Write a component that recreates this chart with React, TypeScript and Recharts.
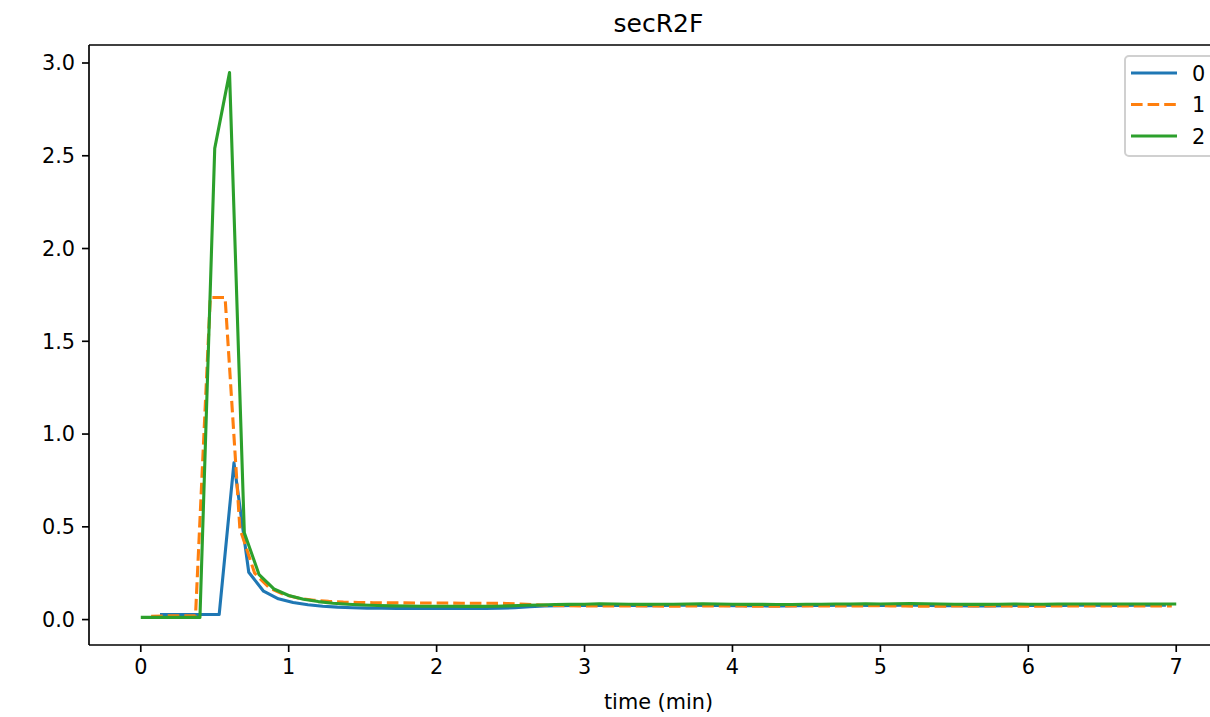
import React from "react";
import {
  LineChart,
  Line,
  XAxis,
  YAxis,
  Legend,
  ReferenceLine,
  Customized,
} from "recharts";

// ---- data ----
const seriesNames = ["0", "1", "2"];
const seriesColors = ["#1f77b4", "#ff7f0e", "#2ca02c"];

const xTicks = [0, 1, 2, 3, 4, 5, 6, 7];
const yTicks = [0, 0.5, 1.0, 1.5, 2.0, 2.5, 3.0];

// series "0" (blue)
const time0 = [
  0.13, 0.23, 0.33, 0.43, 0.53, 0.63, 0.73, 0.83, 0.93, 1.03,
  1.13, 1.23, 1.33, 1.43, 1.53, 1.63, 1.73, 1.83, 1.93, 2.03,
  2.13, 2.23, 2.33, 2.43, 2.53, 2.63, 2.73, 2.83, 2.93, 3.03,
  3.13, 3.23, 3.33, 3.43, 3.53, 3.63, 3.73, 3.83, 3.93, 4.03,
  4.13, 4.23, 4.33, 4.43, 4.53, 4.63, 4.73, 4.83, 4.93, 5.03,
  5.13, 5.23, 5.33, 5.43, 5.53, 5.63, 5.73, 5.83, 5.93, 6.03,
  6.13, 6.23, 6.33, 6.43, 6.53, 6.63, 6.73, 6.83, 6.93,
];
const value0 = [
  0.027, 0.027, 0.027, 0.027, 0.027, 0.845, 0.255, 0.153, 0.112, 0.092,
  0.08, 0.072, 0.067, 0.064, 0.062, 0.061, 0.06, 0.06, 0.06, 0.06,
  0.06, 0.06, 0.06, 0.061, 0.064, 0.069, 0.073, 0.075, 0.076, 0.076,
  0.077, 0.076, 0.076, 0.075, 0.076, 0.077, 0.077, 0.076, 0.076, 0.075,
  0.075, 0.074, 0.074, 0.075, 0.076, 0.076, 0.077, 0.077, 0.076, 0.076,
  0.077, 0.077, 0.076, 0.075, 0.075, 0.074, 0.074, 0.075, 0.076, 0.076,
  0.076, 0.076, 0.077, 0.077, 0.076, 0.076, 0.077, 0.077, 0.077,
];

// series "1" (orange, dashed)
const time1 = [
  0.07, 0.17, 0.27, 0.37, 0.47, 0.57, 0.67, 0.77, 0.87, 0.97,
  1.07, 1.17, 1.27, 1.37, 1.47, 1.57, 1.67, 1.77, 1.87, 1.97,
  2.07, 2.17, 2.27, 2.37, 2.47, 2.57, 2.67, 2.77, 2.87, 2.97,
  3.07, 3.17, 3.27, 3.37, 3.47, 3.57, 3.67, 3.77, 3.87, 3.97,
  4.07, 4.17, 4.27, 4.37, 4.47, 4.57, 4.67, 4.77, 4.87, 4.97,
  5.07, 5.17, 5.27, 5.37, 5.47, 5.57, 5.67, 5.77, 5.87, 5.97,
  6.07, 6.17, 6.27, 6.37, 6.47, 6.57, 6.67, 6.77, 6.87, 6.97,
];
const value1 = [
  0.018, 0.02, 0.02, 0.02, 1.736, 1.736, 0.49, 0.25, 0.17, 0.135,
  0.115, 0.104, 0.098, 0.094, 0.092, 0.091, 0.09, 0.09, 0.089, 0.089,
  0.089, 0.088, 0.088, 0.088, 0.087, 0.084, 0.08, 0.077, 0.075, 0.074,
  0.074, 0.073, 0.073, 0.074, 0.073, 0.072, 0.073, 0.074, 0.074, 0.073,
  0.073, 0.072, 0.072, 0.073, 0.074, 0.074, 0.073, 0.073, 0.074, 0.075,
  0.074, 0.073, 0.072, 0.072, 0.073, 0.073, 0.074, 0.073, 0.073, 0.072,
  0.072, 0.073, 0.073, 0.074, 0.074, 0.073, 0.073, 0.073, 0.074, 0.074,
];

// series "2" (green)
const time2 = [
  0.0, 0.1, 0.2, 0.3, 0.4, 0.5, 0.6, 0.7, 0.8, 0.9,
  1.0, 1.1, 1.2, 1.3, 1.4, 1.5, 1.6, 1.7, 1.8, 1.9,
  2.0, 2.1, 2.2, 2.3, 2.4, 2.5, 2.6, 2.7, 2.8, 2.9,
  3.0, 3.1, 3.2, 3.3, 3.4, 3.5, 3.6, 3.7, 3.8, 3.9,
  4.0, 4.1, 4.2, 4.3, 4.4, 4.5, 4.6, 4.7, 4.8, 4.9,
  5.0, 5.1, 5.2, 5.3, 5.4, 5.5, 5.6, 5.7, 5.8, 5.9,
  6.0, 6.1, 6.2, 6.3, 6.4, 6.5, 6.6, 6.7, 6.8, 6.9,
  7.0,
];
const value2 = [
  0.012, 0.012, 0.012, 0.012, 0.012, 2.54, 2.948, 0.468, 0.242, 0.165,
  0.13, 0.11, 0.097, 0.088, 0.083, 0.079, 0.076, 0.074, 0.073, 0.072,
  0.072, 0.072, 0.071, 0.071, 0.072, 0.074, 0.077, 0.079, 0.081, 0.082,
  0.083, 0.085, 0.084, 0.083, 0.082, 0.083, 0.083, 0.084, 0.085, 0.084,
  0.083, 0.082, 0.082, 0.081, 0.081, 0.083, 0.083, 0.084, 0.084, 0.085,
  0.084, 0.085, 0.086, 0.085, 0.084, 0.083, 0.082, 0.082, 0.083, 0.084,
  0.083, 0.083, 0.084, 0.084, 0.084, 0.084, 0.084, 0.084, 0.084, 0.084,
  0.084,
];

const toRows = (ts: number[], vs: number[]) =>
  ts.map((t, i) => ({ t, v: vs[i] }));

const data0 = toRows(time0, value0);
const data1 = toRows(time1, value1);
const data2 = toRows(time2, value2);

const FONT = "DejaVu Sans, Verdana, sans-serif";
const FS = 20.8;
const LW = 3.1;
const X_DOMAIN: [number, number] = [-0.35, 7.35];
const Y_DOMAIN: [number, number] = [-0.137, 3.097];

const renderLegend = () => (
  <svg width={100} height={104} style={{ display: "block", overflow: "visible" }}>
    <rect
      x={1}
      y={1}
      width={98}
      height={100}
      rx={4}
      ry={4}
      fill="#ffffff"
      fillOpacity={0.8}
      stroke="#d0d0d0"
      strokeWidth={2}
    />
    {seriesNames.map((name, i) => {
      const cy = 18 + i * 31.5;
      return (
        <g key={name}>
          <line
            x1={7}
            x2={53}
            y1={cy}
            y2={cy}
            stroke={seriesColors[i]}
            strokeWidth={LW}
            strokeDasharray={i === 1 ? "11.6 5" : undefined}
          />
          <text
            x={68}
            y={cy + 7.5}
            fontFamily={FONT}
            fontSize={FS}
            fill="#000"
          >
            {name}
          </text>
        </g>
      );
    })}
  </svg>
);

const Texts = () => (
  <g>
    <text
      x={658.5}
      y={32}
      textAnchor="middle"
      fontFamily={FONT}
      fontSize={25}
      fill="#000"
    >
      secR2F
    </text>
    <text
      x={658.5}
      y={709}
      textAnchor="middle"
      fontFamily={FONT}
      fontSize={FS}
      fill="#000"
    >
      time (min)
    </text>
  </g>
);

export default function App() {
  return (
    <div
      style={{
        position: "fixed",
        left: 0,
        top: 0,
        width: 1210,
        height: 717,
        overflow: "hidden",
        background: "#fff",
      }}
    >
      <LineChart
        width={1260}
        height={717}
        margin={{ top: 45, right: 32, bottom: 0, left: 0 }}
      >
        <XAxis
          type="number"
          dataKey="t"
          domain={X_DOMAIN}
          ticks={xTicks}
          allowDataOverflow
          height={72}
          tickSize={7}
          tickMargin={7}
          axisLine={{ stroke: "#000", strokeWidth: 1.67 }}
          tickLine={{ stroke: "#000", strokeWidth: 1.67 }}
          tick={{ fill: "#000", fontSize: FS, fontFamily: FONT }}
          interval={0}
        />
        <YAxis
          type="number"
          domain={Y_DOMAIN}
          ticks={yTicks}
          allowDataOverflow
          width={89}
          tickSize={7}
          tickMargin={7}
          tickFormatter={(v: number) => v.toFixed(1)}
          axisLine={{ stroke: "#000", strokeWidth: 1.67 }}
          tickLine={{ stroke: "#000", strokeWidth: 1.67 }}
          tick={{ fill: "#000", fontSize: FS, fontFamily: FONT }}
          interval={0}
        />
        <ReferenceLine y={Y_DOMAIN[1]} stroke="#000" strokeWidth={1.67} />
        <ReferenceLine x={X_DOMAIN[1]} stroke="#000" strokeWidth={1.67} />
        <Line
          data={data0}
          dataKey="v"
          name={seriesNames[0]}
          type="linear"
          stroke={seriesColors[0]}
          strokeWidth={LW}
          strokeLinejoin="round"
          dot={false}
          activeDot={false}
          isAnimationActive={false}
        />
        <Line
          data={data1}
          dataKey="v"
          name={seriesNames[1]}
          type="linear"
          stroke={seriesColors[1]}
          strokeWidth={LW}
          strokeDasharray="11.6 5"
          strokeLinejoin="round"
          dot={false}
          activeDot={false}
          isAnimationActive={false}
        />
        <Line
          data={data2}
          dataKey="v"
          name={seriesNames[2]}
          type="linear"
          stroke={seriesColors[2]}
          strokeWidth={LW}
          strokeLinejoin="round"
          dot={false}
          activeDot={false}
          isAnimationActive={false}
        />
        <Legend
          layout="horizontal"
          align="center"
          verticalAlign="middle"
          content={renderLegend}
          wrapperStyle={{ position: "absolute", left: 1124, top: 55, width: 100, height: 104 }}
        />
        <Customized component={Texts} />
      </LineChart>
    </div>
  );
}
